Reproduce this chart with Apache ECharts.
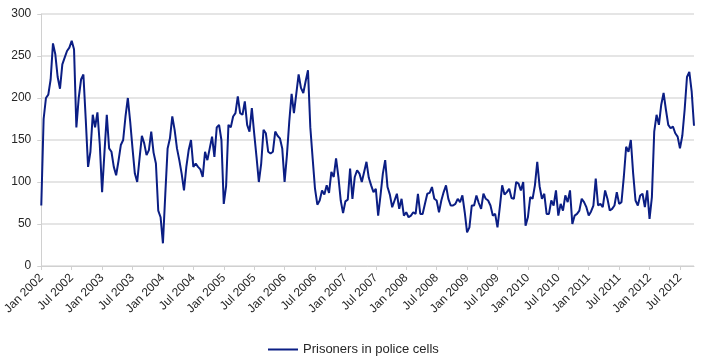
<!DOCTYPE html>
<html>
<head>
<meta charset="utf-8">
<script src="https://cdn.jsdelivr.net/npm/echarts@6/dist/echarts.min.js"></script>
<style>
html,body{margin:0;padding:0;background:#fff;}
#chart{width:715px;height:362px;}
</style>
</head>
<body>
<div id="chart"></div>
<script>
// Half-year tick labels (13 fortnightly points per half-year)
const tickLabels = ["Jan 2002","Jul 2002","Jan 2003","Jul 2003","Jan 2004","Jul 2004","Jan 2005","Jul 2005","Jan 2006","Jul 2006","Jan 2007","Jul 2007","Jan 2008","Jul 2008","Jan 2009","Jul 2009","Jan 2010","Jul 2010","Jan 2011","Jul 2011","Jan 2012","Jul 2012"];
const pointsPerHalfYear = 13;
const seriesName = "Prisoners in police cells";

// Prisoners in police cells, approx. fortnightly readings from Jan 2002 to Sep 2012
const prisoners = [
  72,175,200,204,222,265,252,225,211,240,248,256,260,
  268,258,165,200,222,228,175,118,136,180,165,183,145,
  88,135,180,140,136,118,108,125,144,150,178,200,172,
  140,110,100,128,155,146,132,138,160,135,122,66,58,
  27,85,140,152,178,162,140,126,110,90,118,138,150,
  118,122,118,115,106,136,126,140,154,130,165,168,150,
  74,95,168,165,178,182,202,182,180,196,168,160,188,
  158,130,100,122,162,158,136,134,136,160,155,152,140,
  100,132,172,205,182,205,228,212,206,220,233,165,128,
  92,73,78,90,85,96,87,112,106,128,106,78,63,
  77,79,116,80,106,114,110,100,112,124,105,96,88,
  92,60,84,110,126,94,85,70,78,86,68,80,60,
  64,58,60,64,62,86,62,62,74,86,87,94,80,
  78,64,78,88,96,80,72,72,74,80,76,84,64,
  40,46,72,72,84,75,68,86,80,78,72,60,62,
  46,70,96,85,88,92,81,80,100,98,90,100,48,
  58,82,80,96,124,95,80,86,62,62,78,72,90,
  60,74,66,84,76,90,50,60,62,66,80,76,70,
  60,65,72,104,72,74,70,90,80,66,68,72,88,
  74,76,106,142,136,150,110,78,72,84,86,70,90,
  56,82,160,180,168,192,206,186,168,164,166,158,154,
  140,155,186,225,231,208,167
];

const categories = prisoners.map((v, i) =>
  (i % pointsPerHalfYear === 0 && tickLabels[i / pointsPerHalfYear]) ? tickLabels[i / pointsPerHalfYear] : ("p" + i)
);

const chart = echarts.init(document.getElementById('chart'), null, {renderer: 'canvas'});
chart.setOption({
  animation: false,
  backgroundColor: '#ffffff',
  grid: {left: 38, right: 21, top: 14, bottom: 96},
  legend: {
    data: [{name: seriesName, icon: 'rect'}],
    left: 263, top: 338,
    itemWidth: 30, itemHeight: 2,
    itemGap: 5,
    textStyle: {fontFamily: 'Liberation Sans, Arial, sans-serif', fontSize: 13, color: '#262626'}
  },
  xAxis: {
    type: 'category',
    data: categories,
    boundaryGap: false,
    axisLine: {show: true, lineStyle: {color: '#d0d0d0', width: 1}},
    axisTick: {show: true, interval: pointsPerHalfYear - 1, length: 4, lineStyle: {color: '#d0d0d0'}},
    axisLabel: {
      interval: pointsPerHalfYear - 1,
      rotate: 45,
      margin: 10,
      fontFamily: 'Liberation Sans, Arial, sans-serif',
      fontSize: 12,
      color: '#262626'
    },
    splitLine: {show: false}
  },
  yAxis: {
    type: 'value',
    min: 0, max: 300, interval: 50,
    axisLine: {show: true, lineStyle: {color: '#d0d0d0', width: 1}},
    axisTick: {show: true, length: 4, lineStyle: {color: '#d0d0d0'}},
    axisLabel: {
      margin: 10,
      fontFamily: 'Liberation Sans, Arial, sans-serif',
      fontSize: 12,
      color: '#262626'
    },
    splitLine: {show: true, lineStyle: {color: '#dcdcdc', width: 1.5}}
  },
  series: [{
    name: seriesName,
    type: 'line',
    data: prisoners,
    symbol: 'none',
    smooth: false,
    color: '#0b1e84',
    lineStyle: {color: '#0b1e84', width: 2}
  }]
});
</script>
</body>
</html>
